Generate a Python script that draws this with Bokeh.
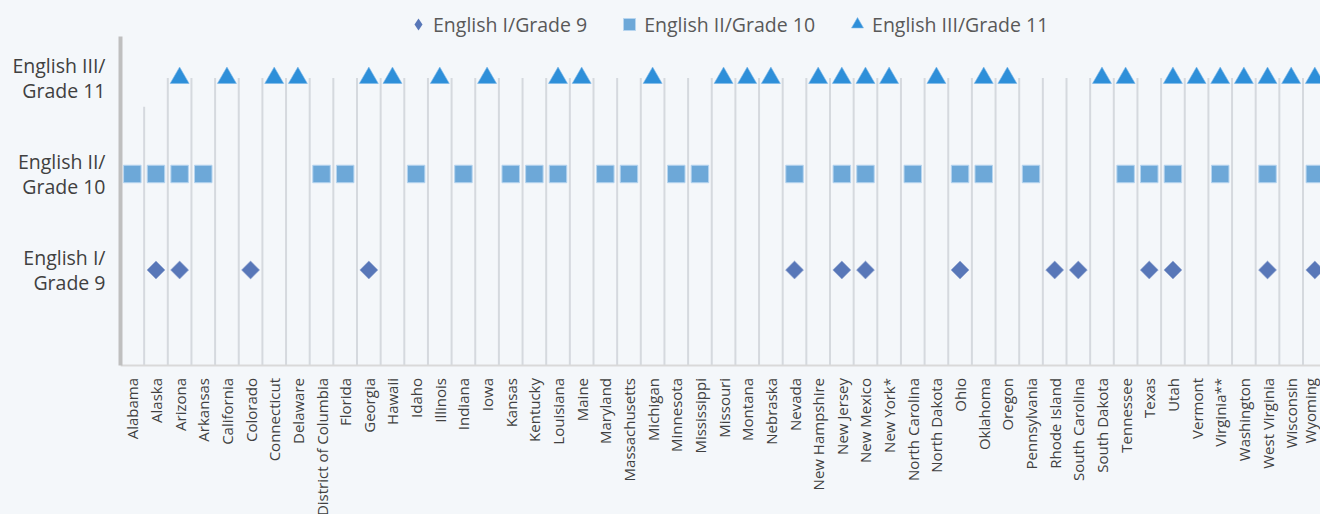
from math import pi
from bokeh.plotting import figure
from bokeh.models import FixedTicker, Range1d, Legend, LegendItem
from bokeh.embed import file_html
from bokeh.resources import INLINE

# ---------------- data ----------------
states = ["Alabama", "Alaska", "Arizona", "Arkansas", "California", "Colorado",
          "Connecticut", "Delaware", "District of Columbia", "Florida", "Georgia",
          "Hawaii", "Idaho", "Illinois", "Indiana", "Iowa", "Kansas", "Kentucky",
          "Louisiana", "Maine", "Maryland", "Massachusetts", "Michigan", "Minnesota",
          "Mississippi", "Missouri", "Montana", "Nebraska", "Nevada", "New Hampshire",
          "New Jersey", "New Mexico", "New York*", "North Carolina", "North Dakota",
          "Ohio", "Oklahoma", "Oregon", "Pennsylvania", "Rhode Island",
          "South Carolina", "South Dakota", "Tennessee", "Texas", "Utah", "Vermont",
          "Virginia**", "Washington", "West Virginia", "Wisconsin", "Wyoming"]

english1_states = ["Alaska", "Arizona", "Colorado", "Georgia", "Nevada", "New Jersey",
                   "New Mexico", "Ohio", "Rhode Island", "South Carolina", "Texas",
                   "Utah", "West Virginia", "Wyoming"]

english2_states = ["Alabama", "Alaska", "Arizona", "Arkansas", "District of Columbia",
                   "Florida", "Idaho", "Indiana", "Kansas", "Kentucky", "Louisiana",
                   "Maryland", "Massachusetts", "Minnesota", "Mississippi", "Nevada",
                   "New Jersey", "New Mexico", "North Carolina", "Ohio", "Oklahoma",
                   "Pennsylvania", "Tennessee", "Texas", "Utah", "Virginia**",
                   "West Virginia", "Wyoming"]

english3_states = ["Arizona", "California", "Connecticut", "Delaware", "Georgia", "Hawaii",
                   "Illinois", "Iowa", "Louisiana", "Maine", "Michigan", "Missouri",
                   "Montana", "Nebraska", "New Hampshire", "New Jersey", "New Mexico",
                   "New York*", "North Dakota", "Oklahoma", "Oregon", "South Dakota",
                   "Tennessee", "Utah", "Vermont", "Virginia**", "Washington",
                   "West Virginia", "Wisconsin", "Wyoming"]

series_names = ["English I/Grade 9", "English II/Grade 10", "English III/Grade 11"]
series_levels = [1, 2, 3]
level_labels = ["English I/\nGrade 9", "English II/\nGrade 10", "English III/\nGrade 11"]

# ---------------- styling ----------------
BG = "#F4F7FA"
FONT = "Open Sans"
C1, C2, C3 = "#5877B8", "#6DA8D8", "#2E8FD9"

p = figure(width=1320, height=514,
           x_range=Range1d(-0.5, 50.24), y_range=Range1d(-1.547, 3.807),
           output_backend="svg", toolbar_location=None,
           min_border_left=120, min_border_right=0, min_border_top=0, min_border_bottom=0,
           background_fill_color=BG, border_fill_color=BG, outline_line_color=None)
p.xgrid.visible = False
p.ygrid.visible = False

# category separators (vertical lines between states)
bx = [i + 0.5 for i in range(len(states) - 1)]
tops = [3.0] * len(bx)
tops[0] = 2.7
p.segment(x0=bx, y0=[0] * len(bx), x1=bx, y1=tops, line_color="#D5D9DE", line_width=2)

def xs(lst):
    return [states.index(s) for s in lst]

y1 = [series_levels[0]] * len(english1_states)
# legend swatch for the diamond series (legend glyphs are drawn unrotated);
# it sits fully hidden beneath the rotated squares below
r1_key = p.scatter(xs(english1_states), y1, marker="diamond", size=12,
                   fill_color=C1, line_color=None)
r1 = p.scatter(xs(english1_states), y1,
               marker="square", angle=pi / 4, size=12.7,
               fill_color=C1, line_color="#8FA3D0", line_width=0.6)
r2 = p.scatter(xs(english2_states), [series_levels[1]] * len(english2_states),
               marker="square", size=17.5,
               fill_color=C2, line_color="#B7D5EF", line_width=1)
r3 = p.scatter(xs(english3_states), [series_levels[2]] * len(english3_states),
               marker="triangle", size=19,
               fill_color=C3, line_color="#7FB8E8", line_width=0.6)

# x axis (fixed at y=0 so the labels do not shrink the frame)
xa = p.xaxis[0]
xa.fixed_location = 0
xa.ticker = FixedTicker(ticks=list(range(len(states))))
xa.major_label_overrides = {i: s for i, s in enumerate(states)}
xa.major_label_orientation = pi / 2
xa.major_label_text_font = FONT
xa.major_label_text_font_size = "15px"
xa.major_label_text_color = "#404040"
xa.major_label_standoff = 12
xa.major_tick_in = 0
xa.major_tick_out = 0
xa.minor_tick_in = 0
xa.minor_tick_out = 0
xa.axis_line_color = "#D9D9D9"
xa.axis_line_width = 2

# y axis
ya = p.yaxis[0]
ya.ticker = FixedTicker(ticks=series_levels)
ya.major_label_overrides = {lv: lb for lv, lb in zip(series_levels, level_labels)}
ya.major_label_text_font = FONT
ya.major_label_text_font_size = "19.5px"
ya.major_label_text_color = "#404040"
ya.major_label_text_line_height = 0.96
ya.major_label_standoff = 15
ya.major_tick_in = 0
ya.major_tick_out = 0
ya.minor_tick_in = 0
ya.minor_tick_out = 0
ya.axis_line_color = "#BFBFBF"
ya.axis_line_width = 4
ya.bounds = (0, 3.432)

# legend
lg = Legend(items=[LegendItem(label=series_names[0], renderers=[r1_key]),
                   LegendItem(label=series_names[1], renderers=[r2]),
                   LegendItem(label=series_names[2], renderers=[r3])],
            orientation="horizontal", location=(283, 475),
            glyph_width=30, glyph_height=30, label_standoff=0, spacing=27,
            padding=0, margin=0, background_fill_alpha=0, border_line_alpha=0,
            label_text_font=FONT, label_text_font_size="19.5px",
            label_text_color="#595959")
p.add_layout(lg, "center")

html = file_html(p, INLINE)
html = html.replace("<head>", "<head><style>html,body{background:%s;}</style>" % BG, 1)
open("out.html", "w").write(html)
